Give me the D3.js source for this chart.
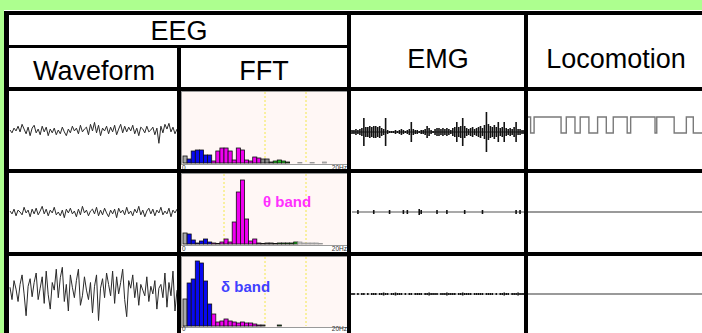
<!DOCTYPE html>
<html>
<head>
<meta charset="utf-8">
<script src="https://cdn.jsdelivr.net/npm/d3@7"></script>
<style>
  body { margin: 0; background: #adff8f; }
  svg { display: block; }
</style>
</head>
<body>
<svg id="chart" width="702" height="333"></svg>
<script>
// ---- data ----
const headerTop = ['EEG', 'EMG', 'Locomotion'];
const headerSub = ['Waveform', 'FFT'];

// EEG waveforms (arbitrary units, positive = up)
const eeg1 = [0,-3,2,-1,4,-2,6,1,-4,3,-6,2,5,-3,1,-5,4,-2,3,-6,1,-3,2,-5,0,-4,3,-2,-6,1,-3,4,-1,2,-4,5,-2,1,3,-5,6,-1,8,-3,5,-6,2,-1,4,-4,3,-2,5,-5,1,6,-3,4,-2,3,-1,5,-4,2,-6,3,1,-3,4,-2,0,3,-5,2,-14,4,-3,6,1,7,-2,3,-4,1];
const eeg2 = [1,-2,3,-4,2,0,-3,5,-1,2,-5,3,-2,4,-3,1,6,-2,3,-4,2,-1,5,-3,0,-4,2,-6,3,-1,4,-2,1,-5,3,-3,6,-1,2,-4,1,3,-2,5,-4,2,-3,4,-1,-5,2,-2,3,-6,4,-1,2,-3,5,-2,1,-4,3,-1,6,-3,2,-5,1,4,-2,3,-4,2,-1,5,-3,1,-2,4,-5,2,-1,3];
const eeg3 = [5,-8,12,3,-10,8,18,-2,-25,6,14,-5,10,20,-8,4,16,-12,22,-3,-18,10,2,24,-6,15,26,-10,8,-20,18,5,-6,12,24,-14,-4,16,2,-8,10,-22,6,18,-30,4,14,-6,20,8,-4,22,-12,16,-2,10,24,-8,-26,12,4,18,-6,10,-14,8,2,-4,16,-10,6,-2,12,-18,4,8,-6,20,-16,10,-4,22,-20,2];

// FFT power, 0.5 Hz bins from 0 to 20 Hz
const fft1 = [7,4,12,13,13,8,8,2,12,15,15,12,3,15,13,3,2,6,5,4,4,1,2,3,2,1,0,0,0.5,0,0,0.5,0,0,1,0,0,0,0,0];
const fft2 = [11,10,4,1,3,5,2,1,0.5,2,5,2,22,52,64,25,3,5,1,0.5,1,1,0.5,1,1,1,1,2,2,1,1,1,1,0.5,0,0,0,0,0,0];
const fft3 = [27,43,47,65,63,45,22,12,4,5,7,5,4,3,4,3,3,2,1,1,0,0,0,1,0,0,0,0,0,0,0,0,0,0,0,0,0,0,0,0];
const fftMarks1 = [10, 15];
const fftMarks2 = [5, 15];
const fftMarks3 = [10, 15];
const bandEdges = [0.5, 3.5, 9.5, 11, 14];
const bandColors = ['#a9a9a9', '#0808f0', '#f000f0', '#8a8a8a', '#20c020', '#c8c8c8'];
const bandLabels = ['θ band', 'δ band'];

// EMG envelope (half amplitude per sample)
const emg1 = [2,2,3,2,3,4,14,5,5,6,5,6,6,5,6,4,3,14,2,1,1,1,2,1,2,3,2,1,2,3,10,3,2,2,1,2,2,3,6,4,2,1,3,4,4,3,4,3,4,3,2,4,5,10,5,6,14,6,4,3,4,5,3,4,5,6,4,7,20,8,6,5,7,5,10,4,5,10,4,3,4,3,5,10,3,3,2,2];
const emg2 = [0,0,0,2,0,0,0,0,0,0,0,2,0,0,0,0,0,0,0,2,0,0,0,0,0,0,2,0,2,0,0,0,0,0,3,2,0,0,0,0,0,0,0,2,0,0,0,0,2,0,0,0,0,0,0,0,0,2,0,0,0,0,0,0,0,0,2,0,0,0,0,0,0,0,0,0,0,0,0,0,0,0,0,2,0,2,0,0];
const emg3 = [1,1,0,1,0,1,1,0,1,0,1,1,1,0,1,1,1.5,1,1,0,1,1,1.5,1,1,1,0,1,0,1,1,0,1,1,1,1,0,1,1,1.5,1,1,1,1,0,1,1,1,1.5,1,1,1,1,0,1,1,1.5,1,1,1,1,0,1,1,1,1,1,0,1,1,1,1,0,1,0,1,1,1.5,1,1,0,1,1,1,1.5,1,1,1];

// Locomotion (step signal, time in % of window, level 0/1)
const locoTimes = [0, 1.5, 3.5, 19, 22, 27, 30, 35, 40, 45, 49, 57, 59, 73, 74, 84, 91, 95, 100];
const locoLevels = [1, 0, 1, 0, 1, 0, 1, 0, 1, 0, 1, 0, 1, 0, 1, 0, 1, 0, 0];
const locoFlatTimes = [0, 100];
const locoFlatLevels = [0, 0];

// ---- layout ----
const svg = d3.select('#chart');
const W = 702, H = 333;
const font = "'Liberation Sans', Arial, sans-serif";

const colLine = [6.5, 179, 349, 526];      // centres of the vertical rules
const rowTop = [91, 173, 256];             // top of each body row
const baseOff = [72, 71, 70];              // FFT baseline offset from row top

// cells background
svg.append('rect').attr('x', 4).attr('y', 10).attr('width', W - 4).attr('height', H - 10).attr('fill', '#fff');

// ---- traces ----
const eegSets = [eeg1, eeg2, eeg3];
const eegMid = [130, 212, 292];
eegSets.forEach((d, r) => {
  const x = d3.scaleLinear().domain([0, d.length - 1]).range([10, 177]);
  const y = d3.scaleLinear().domain([-40, 40]).range([eegMid[r] + 38, eegMid[r] - 38]);
  const line = d3.line().x((v, i) => x(i)).y(v => y(v));
  svg.append('path').datum(d)
     .attr('d', line)
     .attr('fill', 'none')
     .attr('stroke', '#2a2a2a')
     .attr('stroke-width', 1);
});

// FFT panels
const fftSets = [fft1, fft2, fft3];
const markSets = [fftMarks1, fftMarks2, fftMarks3];
const colour = d3.scaleThreshold().domain(bandEdges).range(bandColors);
fftSets.forEach((d, r) => {
  const top = rowTop[r];
  const base = top + baseOff[r];
  const x = d3.scaleLinear().domain([0, 20]).range([183, 347]);
  const y = d3.scaleLinear().domain([0, 72]).range([base, base - 72]);
  const g = svg.append('g');
  g.append('rect')
   .attr('x', 181.5).attr('y', top + 0.5)
   .attr('width', 166).attr('height', base - top + 1)
   .attr('fill', '#fff7f5').attr('stroke', '#9a9a9a');
  g.selectAll('line.mark').data(markSets[r]).join('line')
   .attr('class', 'mark')
   .attr('x1', v => x(v)).attr('x2', v => x(v))
   .attr('y1', top + 1).attr('y2', base)
   .attr('stroke', '#f3e84a').attr('stroke-dasharray', '2,2');
  g.selectAll('rect.bar').data(d).join('rect')
   .attr('class', 'bar')
   .attr('x', (v, i) => x(i * 0.5))
   .attr('width', x(0.5) - x(0))
   .attr('y', v => y(v))
   .attr('height', v => base - y(v))
   .attr('fill', (v, i) => colour(i * 0.5))
   .attr('stroke', (v, i) => i * 0.5 < 14 ? '#111' : '#999')
   .attr('stroke-width', 0.8);
  const ly = Math.min(base + 7, H - 2);
  g.append('text').attr('x', 182).attr('y', ly)
   .attr('font-family', font).attr('font-size', 6.5).attr('fill', '#333').text('0');
  g.append('text').attr('x', 347).attr('y', ly).attr('text-anchor', 'end')
   .attr('font-family', font).attr('font-size', 6.5).attr('fill', '#333').text('20Hz');
});
svg.append('text').attr('x', 263).attr('y', 207)
   .attr('font-family', font).attr('font-size', 15).attr('font-weight', 'bold')
   .attr('fill', '#ff30ff').text(bandLabels[0]);
svg.append('text').attr('x', 221).attr('y', 292)
   .attr('font-family', font).attr('font-size', 15).attr('font-weight', 'bold')
   .attr('fill', '#4040ff').text(bandLabels[1]);

// EMG
const emgSets = [emg1, emg2, emg3];
const emgMid = [132, 212, 294];
const emgBase = ['#222', '#555', '#888'];
emgSets.forEach((d, r) => {
  const x = d3.scaleLinear().domain([0, d.length - 1]).range([352, 524]);
  const y = d3.scaleLinear().domain([-40, 40]).range([emgMid[r] + 40, emgMid[r] - 40]);
  svg.append('line')
     .attr('x1', 352).attr('x2', 524)
     .attr('y1', y(0)).attr('y2', y(0))
     .attr('stroke', emgBase[r]).attr('stroke-width', 1.2);
  svg.append('g').selectAll('line').data(d).join('line')
     .attr('x1', (v, i) => x(i)).attr('x2', (v, i) => x(i))
     .attr('y1', v => y(-v)).attr('y2', v => y(v))
     .attr('stroke', '#111')
     .attr('stroke-width', 1.6);
});

// Locomotion
const locoSets = [[locoTimes, locoLevels], [locoFlatTimes, locoFlatLevels], [locoFlatTimes, locoFlatLevels]];
const locoLow = [133, 212, 294];
locoSets.forEach((d, r) => {
  const pts = d[0].map((t, i) => [t, d[1][i]]);
  const x = d3.scaleLinear().domain([0, 100]).range([528, 702]);
  const y = d3.scaleLinear().domain([0, 1]).range([locoLow[r], locoLow[r] - 16]);
  const line = d3.line().curve(d3.curveStepAfter).x(p => x(p[0])).y(p => y(p[1]));
  svg.append('path').datum(pts)
     .attr('d', line)
     .attr('fill', 'none')
     .attr('stroke', r === 0 ? '#7a7a7a' : '#9a9a9a')
     .attr('stroke-width', r === 0 ? 1.4 : 2);
});

// ---- table rules ----
const rules = svg.append('g').attr('fill', '#000');
rules.append('rect').attr('x', 4).attr('y', 11).attr('width', W - 4).attr('height', 4);   // top
rules.append('rect').attr('x', 4).attr('y', 11).attr('width', 5).attr('height', H - 11);  // left
rules.append('rect').attr('x', 9).attr('y', 45).attr('width', 340).attr('height', 3);     // under EEG
[87, 169, 252].forEach(yy => rules.append('rect').attr('x', 9).attr('y', yy).attr('width', W - 9).attr('height', 4));
rules.append('rect').attr('x', colLine[1] - 2).attr('y', 48).attr('width', 4).attr('height', H - 48);
rules.append('rect').attr('x', colLine[2] - 2).attr('y', 15).attr('width', 4).attr('height', H - 15);
rules.append('rect').attr('x', colLine[3] - 2).attr('y', 15).attr('width', 4).attr('height', H - 15);

// ---- header text ----
const hdr = svg.append('g')
  .attr('font-family', font).attr('font-size', 27).attr('fill', '#000').attr('text-anchor', 'middle');
hdr.append('text').attr('x', 179).attr('y', 40).text(headerTop[0]);
hdr.append('text').attr('x', 438).attr('y', 68).text(headerTop[1]);
hdr.append('text').attr('x', 616).attr('y', 68).text(headerTop[2]);
hdr.append('text').attr('x', 94).attr('y', 80).text(headerSub[0]);
hdr.append('text').attr('x', 264).attr('y', 80).text(headerSub[1]);
</script>
</body>
</html>
